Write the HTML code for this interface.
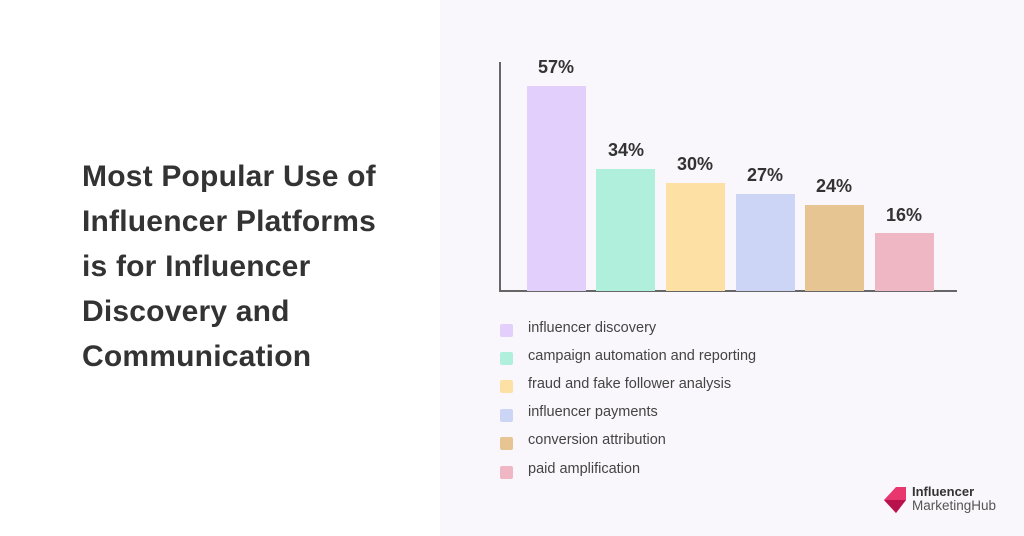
<!DOCTYPE html>
<html><head><style>
body{margin:0;width:1024px;height:536px;position:relative;background:#fff;font-family:"Liberation Sans",sans-serif;overflow:hidden}
.panel{position:absolute;left:440px;top:0;width:584px;height:536px;background:#f9f7fc}
.title{position:absolute;left:82px;top:154px;font-size:30px;font-weight:bold;color:#333;line-height:45px;letter-spacing:0.2px}
.bar{position:absolute;width:59px}
.lbl{position:absolute;width:80px;text-align:center;font-size:18px;font-weight:bold;color:#333}
.sq{position:absolute;left:500px;width:13px;height:13px;border-radius:2px}
.lt{position:absolute;left:528px;font-size:14.5px;color:#444}
</style></head><body>
<div class="panel"></div>
<div class="title">Most Popular Use of<br>Influencer Platforms<br>is for Influencer<br>Discovery and<br>Communication</div>
<div style="position:absolute;left:499px;top:62px;width:2px;height:230px;background:#666"></div>
<div style="position:absolute;left:499px;top:290px;width:458px;height:2px;background:#666"></div>
<div class="bar" style="left:527px;top:86px;height:205px;background:#e2cffb"></div>
<div class="bar" style="left:596px;top:169px;height:122px;background:#b1efdd"></div>
<div class="bar" style="left:666px;top:183px;height:108px;background:#fde1a4"></div>
<div class="bar" style="left:736px;top:194px;height:97px;background:#cdd5f7"></div>
<div class="bar" style="left:805px;top:205px;height:86px;background:#e6c592"></div>
<div class="bar" style="left:875px;top:233px;height:58px;background:#efb6c4"></div>
<div class="lbl" style="left:516px;top:57px">57%</div>
<div class="lbl" style="left:586px;top:140px">34%</div>
<div class="lbl" style="left:655px;top:154px">30%</div>
<div class="lbl" style="left:725px;top:165px">27%</div>
<div class="lbl" style="left:794px;top:176px">24%</div>
<div class="lbl" style="left:864px;top:205px">16%</div>
<div class="sq" style="top:324px;background:#e2cffb"></div><div class="lt" style="top:320px">influencer discovery</div>
<div class="sq" style="top:352px;background:#b1efdd"></div><div class="lt" style="top:348px">campaign automation and reporting</div>
<div class="sq" style="top:380px;background:#fde1a4"></div><div class="lt" style="top:376px">fraud and fake follower analysis</div>
<div class="sq" style="top:409px;background:#cdd5f7"></div><div class="lt" style="top:404px">influencer payments</div>
<div class="sq" style="top:437px;background:#e6c592"></div><div class="lt" style="top:432px">conversion attribution</div>
<div class="sq" style="top:466px;background:#efb6c4"></div><div class="lt" style="top:461px">paid amplification</div>
<svg style="position:absolute;left:882px;top:486px" width="26" height="28"><polygon points="14,1 24,1 24,14 14,27 2,14" fill="#e8366e"/><polygon points="2,14 24,14 14,27" fill="#b8124c"/></svg>
<div style="position:absolute;left:912px;top:485px;font-size:13px;font-weight:bold;color:#333;line-height:14px">Influencer</div>
<div style="position:absolute;left:912px;top:499px;font-size:13.5px;color:#555;line-height:14px">MarketingHub</div>
</body></html>
